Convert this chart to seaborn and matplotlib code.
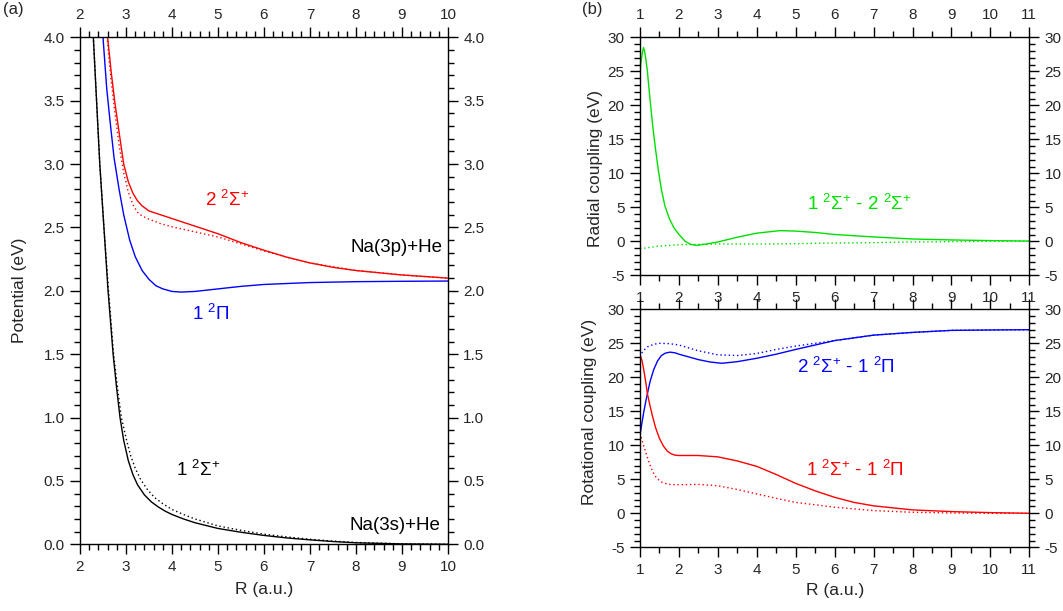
import numpy as np
import matplotlib
matplotlib.use("Agg")
import matplotlib.pyplot as plt
from matplotlib.ticker import MultipleLocator, FormatStrFormatter
import seaborn as sns

# ---------------- data ----------------
# Panel (a): potentials (eV) vs R (a.u.)
r_x1s = [2.2, 2.29, 2.36, 2.43, 2.52, 2.61, 2.72, 2.8, 2.87, 2.95, 3.05, 3.15, 3.25, 3.4,
         3.55, 3.7, 3.85, 4.0, 4.25, 4.5, 5.0, 5.5, 6.0, 6.5, 7.0, 7.5, 8.0, 9.0, 10.0]
v_x1s = [4.6, 4.0, 3.5, 3.0, 2.5, 2.0, 1.5, 1.22, 1.0, 0.82, 0.66, 0.55, 0.47, 0.39,
         0.335, 0.295, 0.262, 0.235, 0.2, 0.17, 0.125, 0.095, 0.07, 0.05, 0.035, 0.022,
         0.012, 0.003, 0.0]
r_x1d = [2.2, 2.29, 2.43, 2.52, 2.62, 2.73, 2.82, 2.9, 3.0, 3.1, 3.2, 3.32, 3.47, 3.62,
         3.8, 4.0, 4.25, 4.5, 5.0, 5.5, 6.0, 6.5, 7.0, 7.5, 8.0, 9.0, 10.0]
v_x1d = [4.6, 4.0, 3.0, 2.5, 2.0, 1.5, 1.22, 1.0, 0.84, 0.70, 0.6, 0.51, 0.43, 0.37,
         0.32, 0.275, 0.235, 0.2, 0.145, 0.11, 0.08, 0.058, 0.04, 0.025, 0.014, 0.004, 0.0]

r_pi = [2.45, 2.5, 2.58, 2.65, 2.74, 2.85, 2.95, 3.08, 3.2, 3.35, 3.5, 3.65, 3.8, 4.0,
        4.2, 4.5, 5.0, 5.5, 6.0, 7.0, 8.0, 9.0, 10.0]
v_pi = [4.5, 4.0, 3.6, 3.35, 3.05, 2.8, 2.6, 2.4, 2.27, 2.16, 2.09, 2.04, 2.015, 1.995,
        1.99, 1.995, 2.015, 2.035, 2.05, 2.065, 2.072, 2.075, 2.077]

r_s2s = [2.55, 2.6, 2.68, 2.76, 2.85, 2.95, 3.05, 3.15, 3.25, 3.35, 3.5, 3.75, 4.0, 4.5,
         5.0, 5.5, 6.0, 6.5, 7.0, 7.5, 8.0, 9.0, 10.0]
v_s2s = [4.5, 4.0, 3.72, 3.48, 3.25, 3.0, 2.86, 2.77, 2.71, 2.67, 2.63, 2.60, 2.57, 2.51,
         2.45, 2.38, 2.32, 2.265, 2.22, 2.185, 2.16, 2.125, 2.10]
r_s2d = [2.55, 2.6, 2.68, 2.76, 2.85, 2.95, 3.05, 3.15, 3.25, 3.35, 3.5, 3.75, 4.0, 4.5,
         5.0, 5.5, 6.0, 6.5, 7.0, 8.0, 9.0, 10.0]
v_s2d = [4.4, 3.95, 3.65, 3.4, 3.15, 2.93, 2.78, 2.68, 2.62, 2.59, 2.565, 2.53, 2.505, 2.465,
         2.425, 2.37, 2.315, 2.265, 2.22, 2.16, 2.125, 2.10]

# Panel (b) top: radial coupling 1Σ-2Σ
r_rad_s = [1.0, 1.03, 1.06, 1.09, 1.12, 1.15, 1.19, 1.23, 1.28, 1.33, 1.4, 1.47, 1.55, 1.64,
           1.75, 1.87, 2.0, 2.16, 2.3, 2.46, 2.65, 2.8, 3.0, 3.5, 4.0, 4.6, 5.0, 5.5, 6.0,
           7.0, 8.0, 9.0, 10.0, 11.0]
c_rad_s = [25.0, 26.5, 27.7, 28.5, 27.9, 26.8, 25.0, 22.5, 19.6, 16.8, 13.5, 10.5, 7.6, 5.2,
           3.4, 2.0, 1.0, 0.0, -0.45, -0.6, -0.45, -0.3, -0.1, 0.6, 1.2, 1.57, 1.5, 1.3, 1.0,
           0.64, 0.34, 0.2, 0.1, 0.03]
r_rad_d = [1.0, 1.5, 2.0, 3.0, 4.0, 5.0, 6.0, 7.0, 8.0, 9.0, 10.0, 11.0]
c_rad_d = [-1.1, -0.7, -0.5, -0.4, -0.4, -0.35, -0.25, -0.2, -0.1, -0.05, 0.0, 0.0]

# Panel (b) bottom: rotational couplings
r_rot_b_s = [1.0, 1.05, 1.1, 1.15, 1.19, 1.26, 1.35, 1.45, 1.55, 1.65, 1.77, 1.9, 2.0, 2.25,
             2.5, 2.8, 3.1, 3.5, 4.0, 4.5, 5.0, 6.0, 7.0, 8.0, 9.0, 10.0, 11.0]
c_rot_b_s = [11.5, 13.3, 15.0, 16.5, 17.6, 19.4, 21.1, 22.4, 23.2, 23.55, 23.7, 23.6, 23.4,
             23.0, 22.6, 22.25, 22.06, 22.3, 22.8, 23.4, 24.1, 25.4, 26.2, 26.6, 26.9,
             26.96, 27.0]
r_rot_b_d = [1.0, 1.05, 1.1, 1.2, 1.35, 1.5, 1.75, 2.0, 2.5, 3.0, 3.5, 4.0, 4.5, 5.0, 6.0,
             7.0, 8.0, 9.0, 10.0, 11.0]
c_rot_b_d = [23.0, 23.6, 24.0, 24.5, 24.85, 25.0, 24.95, 24.75, 23.9, 23.3, 23.2, 23.5, 24.1,
             24.6, 25.4, 26.2, 26.6, 26.9, 26.96, 27.0]
r_rot_r_s = [1.0, 1.05, 1.1, 1.15, 1.19, 1.25, 1.32, 1.4, 1.5, 1.6, 1.7, 1.8, 1.9, 2.0, 2.5,
             3.0, 3.5, 4.0, 4.5, 5.0, 5.5, 6.0, 6.5, 7.0, 8.0, 9.0, 10.0, 11.0]
c_rot_r_s = [23.3, 22.5, 21.0, 19.2, 17.6, 16.0, 14.3, 12.6, 11.0, 9.9, 9.15, 8.75, 8.55, 8.5,
             8.5, 8.3, 7.7, 6.9, 5.7, 4.4, 3.3, 2.35, 1.6, 1.1, 0.5, 0.25, 0.1, 0.0]
r_rot_r_d = [1.0, 1.05, 1.1, 1.18, 1.25, 1.32, 1.4, 1.5, 1.6, 1.75, 2.0, 2.5, 3.0, 3.5, 4.0,
             4.5, 5.0, 6.0, 7.0, 8.0, 9.0, 10.0, 11.0]
c_rot_r_d = [11.8, 10.8, 9.8, 8.4, 7.2, 6.2, 5.4, 4.8, 4.45, 4.25, 4.2, 4.25, 4.05, 3.5, 2.85,
             2.2, 1.6, 0.9, 0.4, 0.15, 0.05, 0.0, 0.0]

# ---------------- style ----------------
sns.set_theme(style="ticks")
plt.rcParams["font.family"] = ["Liberation Sans", "DejaVu Sans"]
plt.rcParams["mathtext.fontset"] = "custom"
plt.rcParams["mathtext.rm"] = "Liberation Sans"
plt.rcParams["mathtext.it"] = "Liberation Sans:italic"
plt.rcParams["mathtext.bf"] = "Liberation Sans:bold"
plt.rcParams["axes.unicode_minus"] = False

RED, BLUE, GREEN, BLACK = "#ff0000", "#0000ff", "#00e000", "#000000"
DOT = (0, (1, 2))
LW = 1.0
TICK_FS = 11
ANN_FS = 13.5
LAB_FS = 12.5

fig = plt.figure(figsize=(10.63, 6.11), dpi=100)
W, H = 1063, 611


def px_axes(l, t, r, b):
    return fig.add_axes([l / W, 1 - b / H, (r - l) / W, (b - t) / H])


axA = px_axes(80, 37.3, 448, 544.3)
axB1 = px_axes(640, 37.3, 1029.3, 275.3)
axB2 = px_axes(640, 309.3, 1029.3, 547.3)


def style_axes(ax, xmaj, xmin, ymaj, ymin, labeltop=True, labelbottom=True):
    ax.xaxis.set_major_locator(MultipleLocator(xmaj))
    ax.xaxis.set_minor_locator(MultipleLocator(xmin))
    ax.yaxis.set_major_locator(MultipleLocator(ymaj))
    ax.yaxis.set_minor_locator(MultipleLocator(ymin))
    ax.tick_params(which="both", direction="out", top=True, right=True, bottom=True, left=True,
                   labeltop=labeltop, labelbottom=labelbottom, labelleft=True, labelright=True,
                   width=1.0, color="black", labelsize=TICK_FS, pad=4.0)
    ax.tick_params(which="major", length=7)
    ax.tick_params(which="minor", length=4)
    for s in ax.spines.values():
        s.set_visible(True)
        s.set_linewidth(1.0)
        s.set_color("black")
    ax.set_facecolor("white")
    ax.grid(False)


def line(ax, x, y, color, ls="-"):
    sns.lineplot(x=x, y=y, ax=ax, color=color, linewidth=LW, linestyle=ls, sort=False,
                 estimator=None)


# ---------------- panel (a) ----------------
line(axA, r_x1d, v_x1d, BLACK, DOT)
line(axA, r_x1s, v_x1s, BLACK)
line(axA, r_pi, v_pi, BLUE)
line(axA, r_s2d, v_s2d, RED, DOT)
line(axA, r_s2s, v_s2s, RED)
axA.set_xlim(2, 10)
axA.set_ylim(0, 4)
style_axes(axA, 1, 0.2, 0.5, 0.1)
axA.yaxis.set_major_formatter(FormatStrFormatter("%.1f"))
axA.set_xlabel("R (a.u.)", fontsize=LAB_FS)
axA.set_ylabel("Potential (eV)", fontsize=LAB_FS)
axA.xaxis.set_label_coords(0.5, -0.074)
axA.yaxis.set_label_coords(-0.144, 0.5)

axA.text(4.72, 2.72, r"2 $^{2}\mathrm{\Sigma}^{+}$", color=RED, fontsize=ANN_FS,
         ha="left", va="center")
axA.text(4.43, 1.82, r"1 $^{2}\mathrm{\Pi}$", color=BLUE, fontsize=ANN_FS,
         ha="left", va="center")
axA.text(4.09, 0.59, r"1 $^{2}\mathrm{\Sigma}^{+}$", color=BLACK, fontsize=ANN_FS,
         ha="left", va="center")
axA.text(9.87, 2.34, "Na(3p)+He", color=BLACK, fontsize=ANN_FS, ha="right", va="center")
axA.text(9.83, 0.15, "Na(3s)+He", color=BLACK, fontsize=ANN_FS, ha="right", va="center")

# ---------------- panel (b) top ----------------
line(axB1, r_rad_d, c_rad_d, GREEN, DOT)
line(axB1, r_rad_s, c_rad_s, GREEN)
axB1.set_xlim(1, 11)
axB1.set_ylim(-5, 30)
style_axes(axB1, 1, 0.5, 5, 1)
axB1.set_xlabel("")
axB1.set_ylabel("Radial coupling (eV)", fontsize=LAB_FS)
axB1.yaxis.set_label_coords(-0.094, 0.447)
axB1.text(5.28, 5.5, r"1 $^{2}\mathrm{\Sigma}^{+}$ - 2 $^{2}\mathrm{\Sigma}^{+}$", color=GREEN,
          fontsize=ANN_FS, ha="left", va="center")

# ---------------- panel (b) bottom ----------------
line(axB2, r_rot_b_d, c_rot_b_d, BLUE, DOT)
line(axB2, r_rot_b_s, c_rot_b_s, BLUE)
line(axB2, r_rot_r_d, c_rot_r_d, RED, DOT)
line(axB2, r_rot_r_s, c_rot_r_s, RED)
axB2.set_xlim(1, 11)
axB2.set_ylim(-5, 30)
style_axes(axB2, 1, 0.5, 5, 1, labeltop=False)
axB2.set_xlabel("R (a.u.)", fontsize=LAB_FS)
axB2.set_ylabel("Rotational coupling (eV)", fontsize=LAB_FS)
axB2.xaxis.set_label_coords(0.5, -0.15)
axB2.yaxis.set_label_coords(-0.111, 0.57)
axB2.text(5.03, 21.56, r"2 $^{2}\mathrm{\Sigma}^{+}$ - 1 $^{2}\mathrm{\Pi}$", color=BLUE,
          fontsize=ANN_FS, ha="left", va="center")
axB2.text(5.26, 6.37, r"1 $^{2}\mathrm{\Sigma}^{+}$ - 1 $^{2}\mathrm{\Pi}$", color=RED,
          fontsize=ANN_FS, ha="left", va="center")

fig.text(3 / W, 1 - 2 / H, "(a)", fontsize=12, ha="left", va="top")
fig.text(582 / W, 1 - 2 / H, "(b)", fontsize=12, ha="left", va="top")

fig.savefig("out.png", dpi=100, facecolor="white")
